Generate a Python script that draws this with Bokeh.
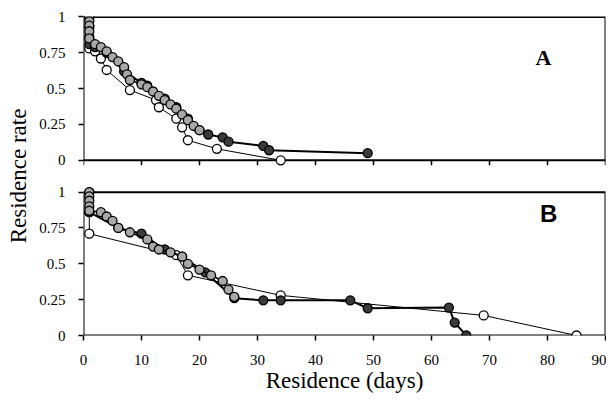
from bokeh.plotting import figure
from bokeh.models import FixedTicker, Label, Range1d
from bokeh.embed import file_html
from bokeh.resources import INLINE

# ---------------- data ----------------
x_ticks = [0, 10, 20, 30, 40, 50, 60, 70, 80, 90]
x_tick_labels = ["0", "10", "20", "30", "40", "50", "60", "70", "80", "90"]
y_ticks = [0, 0.25, 0.5, 0.75, 1]
y_tick_labels = ["0", "0.25", "0.5", "0.75", "1"]

# Panel A
A_open_days = [1, 1, 1, 1, 2, 3, 4, 8, 12.5, 13, 16, 17, 18, 23, 34]
A_open_rate = [1.0, 0.93, 0.86, 0.78, 0.76, 0.71, 0.63, 0.49, 0.42, 0.37, 0.29, 0.23, 0.14, 0.08, 0.0]
A_gray_days = [1, 1, 1, 1, 1, 2, 3, 4, 5, 6, 7, 7.5, 8, 10, 11, 12, 13, 14, 15, 16, 17, 18, 19, 20]
A_gray_rate = [1.0, 0.97, 0.94, 0.9, 0.85, 0.81, 0.79, 0.76, 0.72, 0.69, 0.65, 0.6, 0.56, 0.53, 0.51,
               0.48, 0.45, 0.42, 0.39, 0.36, 0.32, 0.28, 0.24, 0.21]
A_dark_days = [1, 2, 4, 7, 10, 11, 14, 16, 18, 20, 21.5, 24, 25, 31, 32, 49]
A_dark_rate = [0.81, 0.79, 0.75, 0.62, 0.54, 0.52, 0.43, 0.37, 0.29, 0.21, 0.18, 0.16, 0.13, 0.1, 0.07, 0.05]

# Panel B
B_open_days = [1, 1, 1, 16, 18, 34, 69, 85]
B_open_rate = [1.0, 0.86, 0.71, 0.56, 0.42, 0.28, 0.14, 0.0]
B_gray_days = [1, 1, 1, 1, 1, 3, 4, 5, 6, 8, 11, 12, 13, 15, 17, 18, 20, 22, 24, 25, 26]
B_gray_rate = [1.0, 0.97, 0.94, 0.9, 0.87, 0.86, 0.83, 0.8, 0.75, 0.72, 0.67, 0.62, 0.6, 0.58, 0.55,
               0.5, 0.46, 0.42, 0.38, 0.32, 0.27]
B_dark_days = [1, 6, 10, 14, 17, 21, 26, 31, 34, 46, 49, 63, 64, 66]
B_dark_rate = [0.86, 0.75, 0.71, 0.6, 0.55, 0.44, 0.26, 0.245, 0.245, 0.245, 0.19, 0.195, 0.09, 0.0]

# ---------------- layout ----------------
OA = 1.222          # vertical offset of panel A inside the shared frame
TOP = 2.225

SERIF = "Liberation Serif"

p = figure(width=606, height=395, output_backend="svg", toolbar_location=None,
           x_range=Range1d(0, 90), y_range=Range1d(0, TOP),
           min_border_left=83, min_border_right=1, min_border_top=16, min_border_bottom=40)
p.outline_line_color = None
p.grid.visible = False
p.background_fill_color = "white"
p.border_fill_color = "white"

# axes
p.xaxis.ticker = FixedTicker(ticks=x_ticks)
p.xaxis.major_label_overrides = {t: l for t, l in zip(x_ticks, x_tick_labels)}
p.xaxis.axis_label = "Residence (days)"

all_y = [round(t, 3) for t in y_ticks] + [round(OA + t, 3) for t in y_ticks]
all_lbl = y_tick_labels + y_tick_labels
p.yaxis.ticker = FixedTicker(ticks=all_y)
p.yaxis.major_label_overrides = {t: l for t, l in zip(all_y, all_lbl)}
p.yaxis.axis_label = "Residence rate"

for ax in (p.xaxis[0], p.yaxis[0]):
    ax.axis_line_color = None
    ax.major_tick_in = 0
    ax.major_tick_out = 5
    ax.major_tick_line_color = "black"
    ax.major_tick_line_width = 1.5
    ax.minor_tick_line_color = None
    ax.major_label_text_font = SERIF
    ax.major_label_text_font_size = "15px"
    ax.major_label_text_color = "black"
    ax.axis_label_text_font = SERIF
    ax.axis_label_text_font_size = "23px"
    ax.axis_label_text_font_style = "normal"
    ax.axis_label_text_color = "black"

p.yaxis.major_label_standoff = 13
p.yaxis.axis_label_standoff = 5
p.xaxis.major_label_standoff = 14
p.xaxis.axis_label_standoff = 0

# panel frames
p.quad(left=[0, 0], right=[90, 90], bottom=[0, OA], top=[1, OA + 1],
       fill_color=None, line_color="black", line_width=2)

# x ticks under panel A
p.segment(x0=x_ticks, y0=[OA] * len(x_ticks), x1=x_ticks, y1=[OA - 5 / 143] * len(x_ticks),
          line_color="black", line_width=1.5)

MS = 9


def series(days, rate, off, fill, lw):
    ys = [r + off for r in rate]
    p.line(days, ys, line_color="black", line_width=lw)
    p.scatter(days, ys, marker="circle", size=MS, fill_color=fill, line_color="black", line_width=1.3)


for off, (od, orr, gd, gr, dd, dr) in ((OA, (A_open_days, A_open_rate, A_gray_days, A_gray_rate,
                                             A_dark_days, A_dark_rate)),
                                       (0, (B_open_days, B_open_rate, B_gray_days, B_gray_rate,
                                            B_dark_days, B_dark_rate))):
    series(od, orr, off, "white", 1)
    series(dd, dr, off, "#3a3a3a", 2)
    series(gd, gr, off, "#a8a8a8", 1.5)

# panel letters
p.add_layout(Label(x=79.3, y=OA + 0.63, text="A", text_font=SERIF, text_font_style="bold",
                   text_font_size="22px", text_color="black", text_align="center"))
p.add_layout(Label(x=80.2, y=0.76, text="B", text_font="Liberation Sans", text_font_style="bold",
                   text_font_size="24px", text_color="black", text_align="center"))

open("out.html", "w").write(file_html(p, INLINE))
